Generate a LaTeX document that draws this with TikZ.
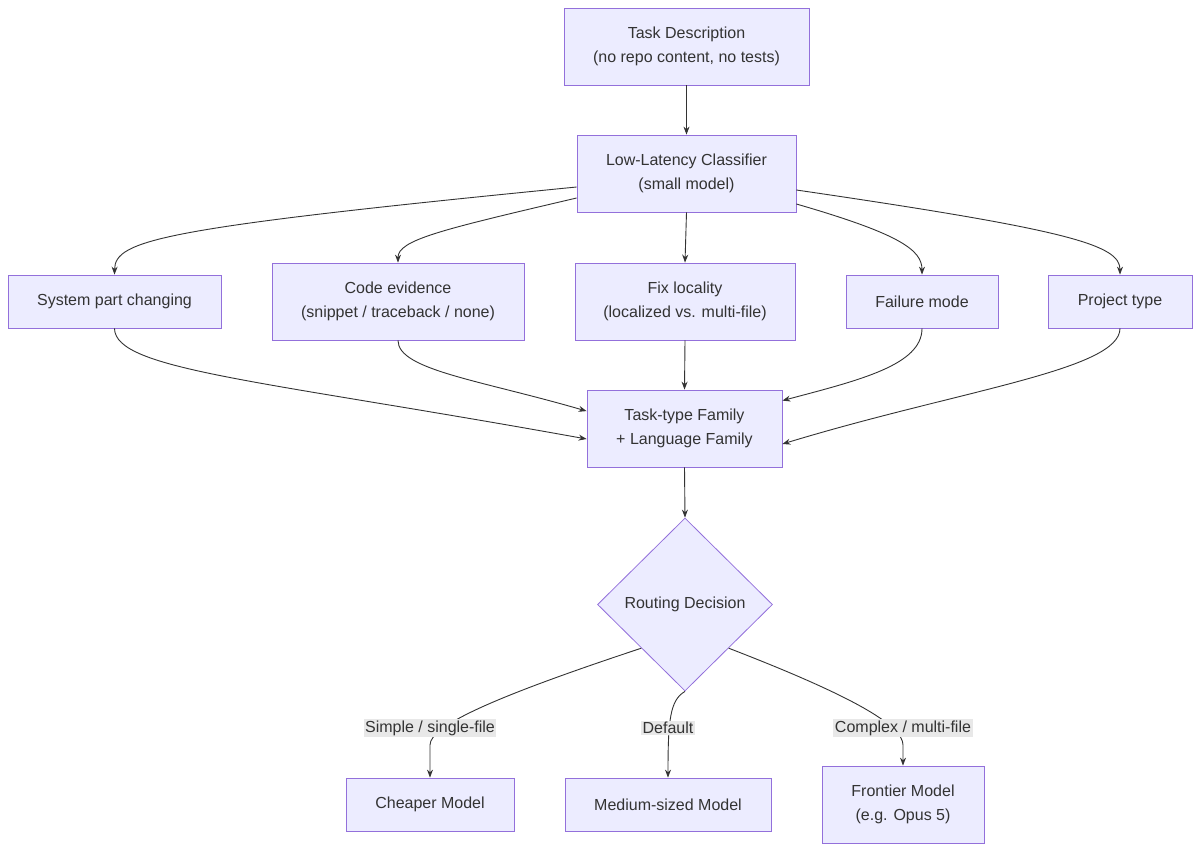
\documentclass[tikz,border=0pt]{standalone}
\usepackage{fontspec}
\setmainfont{Liberation Sans}
\usetikzlibrary{shapes.geometric,arrows.meta}
\definecolor{nfill}{HTML}{ECECFF}
\definecolor{ndraw}{HTML}{9370DB}
\definecolor{txt}{HTML}{333333}
\definecolor{lbl}{HTML}{E8E8E8}
\begin{document}
\begin{tikzpicture}[x=1pt,y=-1pt,
  box/.style={draw=ndraw,fill=nfill,text=txt,align=center,font=\fontsize{16}{24}\selectfont,inner sep=0pt,line width=0.8pt},
  lab/.style={fill=lbl,text=txt,font=\fontsize{16}{20}\selectfont,inner sep=1.5pt},
  edge/.style={draw=txt,line width=0.9pt,-{Stealth[length=8pt,width=6pt]}}]
\useasboundingbox (0,0) rectangle (1200,852);
\node[box,minimum width=245,minimum height=77] (task) at (686.5,46.5) {Task Description\\(no repo content, no tests)};
\node[box,minimum width=219,minimum height=77] (cls) at (686.5,173.5) {Low-Latency Classifier\\(small model)};
\node[box,minimum width=213,minimum height=53] (sys) at (114.5,301.5) {System part changing};
\node[box,minimum width=252,minimum height=77] (code) at (398,301.5) {Code evidence\\(snippet / traceback / none)};
\node[box,minimum width=220,minimum height=77] (fix) at (685,301.5) {Fix locality\\(localized vs. multi-file)};
\node[box,minimum width=152,minimum height=53] (fail) at (922,301.5) {Failure mode};
\node[box,minimum width=144,minimum height=53] (proj) at (1120,301.5) {Project type};
\node[box,minimum width=195,minimum height=77] (fam) at (684.5,428.5) {Task-type Family\\+ Language Family};
\node[box,shape=diamond,minimum width=175,minimum height=173] (dec) at (685,604.5) {Routing Decision};
\node[box,minimum width=168,minimum height=53] (cheap) at (430,804.5) {Cheaper Model};
\node[box,minimum width=206,minimum height=53] (med) at (668,804.5) {Medium-sized Model};
\node[box,minimum width=162,minimum height=77] (front) at (903,804.5) {Frontier Model\\(e.g. Opus 5)};

\draw[edge] (task) -- (cls);
\draw[edge] ([yshift=-13.5]cls.west) .. controls (160,228) and (115,240) .. (sys.north);
\draw[edge] ([yshift=-24.5]cls.west) .. controls (440,230) and (398,240) .. (code.north);
\draw[edge] (cls.south) -- (fix.north);
\draw[edge] ([yshift=-30.5]cls.east) .. controls (900,234) and (922,250) .. (fail.north);
\draw[edge] ([yshift=-16.5]cls.east) .. controls (1070,230) and (1120,245) .. (proj.north);
\draw[edge] (sys.south) .. controls (115,370) and (260,380) .. ([yshift=-10.5]fam.west);
\draw[edge] (code.south) .. controls (398,370) and (480,380) .. ([yshift=-21.5]fam.north west);
\draw[edge] (fix.south) -- (fam.north);
\draw[edge] (fail.south) .. controls (922,365) and (860,380) .. ([yshift=-11]fam.north east);
\draw[edge] (proj.south) .. controls (1120,370) and (960,390) .. ([yshift=-15.5]fam.east);
\draw[edge] (fam.south) -- (dec.north);
\draw[edge] (dec.225) .. controls (500,695) and (430,725) .. (430,745) -- (cheap.north);
\draw[edge] (dec.south) .. controls (670,700) and (668,720) .. (med.north);
\draw[edge] (dec.315) .. controls (850,695) and (903,725) .. (903,745) -- (front.north);
\node[lab] (l1) at (430,728) {Simple / single-file};
\node[lab] (l2) at (668,728) {Default};
\node[lab] (l3) at (903,728) {Complex / multi-file};
\end{tikzpicture}
\end{document}
